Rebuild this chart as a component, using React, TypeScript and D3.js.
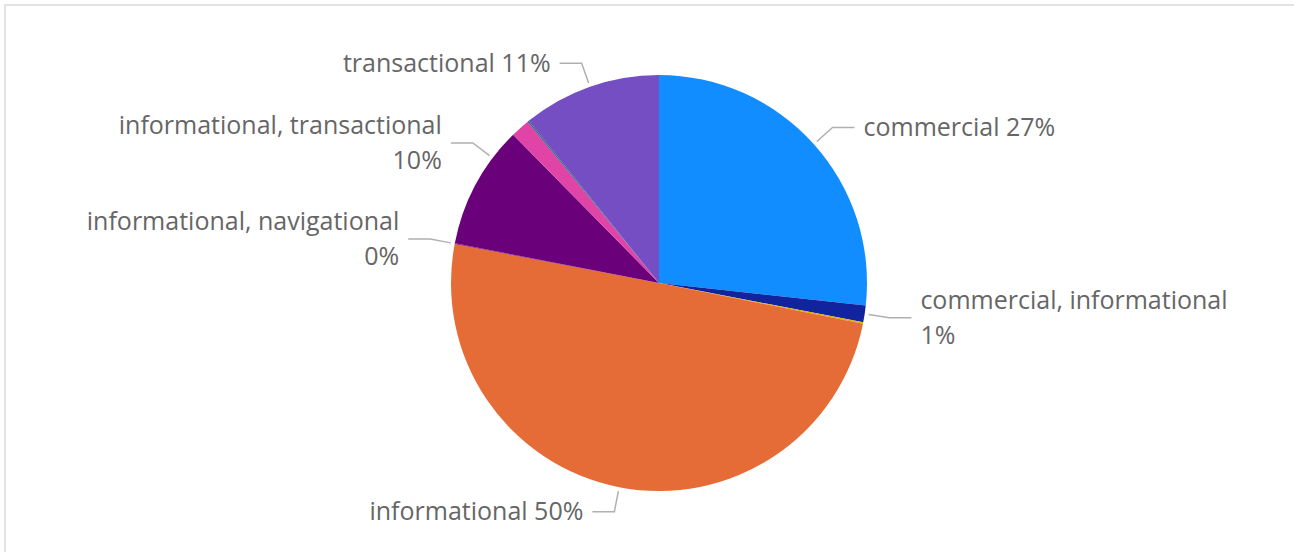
import React from "react";
import * as d3 from "d3";

const categories = [
  "commercial",
  "commercial, informational",
  "commercial, transactional",
  "informational",
  "informational, navigational",
  "informational, transactional",
  "navigational",
  "navigational, transactional",
  "transactional",
];
const values = [26.8, 1.3, 0.1, 50.0, 0.05, 9.6, 1.5, 0.1, 10.8];
const colors = [
  "#118DFF",
  "#12239E",
  "#D9B300",
  "#E66C37",
  "#6B007B",
  "#6B007B",
  "#E044A7",
  "#197278",
  "#744EC2",
];
const labeledCategories = [
  "commercial",
  "commercial, informational",
  "informational",
  "informational, navigational",
  "informational, transactional",
  "transactional",
];

const W = 1294;
const H = 552;
const CX = 659;
const CY = 283;
const R = 208;
const R_ELBOW = 233;
const LINE_H = 35;
const GAP = 26;
const FONT = "'Segoe UI', 'Open Sans', sans-serif";
const FONT_SIZE = 25;

type Lbl = {
  name: string;
  lines: string[];
  side: number;
  y: number;
  h: number;
};

export default function App() {
  const total = d3.sum(values);
  const data = categories.map((c, i) => ({ name: c, value: values[i], color: colors[i] }));
  const pie = d3.pie<any>().sort(null).value((d) => d.value);
  const arcs = pie(data);
  const arcGen = d3.arc<any>().innerRadius(0).outerRadius(R);

  const labels: Lbl[] = arcs
    .filter((a) => labeledCategories.includes(a.data.name))
    .map((a) => {
      const mid = (a.startAngle + a.endAngle) / 2;
      const side = Math.sin(mid) >= 0 ? 1 : -1;
      const pct = Math.round((a.data.value / total) * 100) + "%";
      const lines = a.data.name.includes(",") ? [a.data.name, pct] : [a.data.name + " " + pct];
      return {
        name: a.data.name,
        lines,
        side,
        y: CY - R_ELBOW * Math.cos(mid),
        h: lines.length * LINE_H,
      };
    });

  // collision avoidance: push labels upward from the bottom on each side
  [-1, 1].forEach((s) => {
    const group = labels.filter((l) => l.side === s).sort((a, b) => a.y - b.y);
    for (let i = group.length - 2; i >= 0; i--) {
      const need = (group[i].h + group[i + 1].h) / 2 + GAP;
      if (group[i + 1].y - group[i].y < need) group[i].y = group[i + 1].y - need;
    }
  });

  return (
    <svg
      width={W}
      height={H}
      style={{ position: "absolute", left: 0, top: 0, background: "#fff" }}
    >
      <rect x={5} y={5} width={W + 10} height={H + 10} fill="none" stroke="#e3e3e3" strokeWidth={2} />
      <g>
        {arcs.map((a, i) => (
          <path key={i} d={arcGen(a) as string} transform={`translate(${CX},${CY})`} fill={a.data.color} />
        ))}
      </g>
      <g>
        {labels.map((l, i) => {
          const dy = l.y - CY;
          const ex = CX + l.side * Math.sqrt(Math.max(0, R_ELBOW * R_ELBOW - dy * dy));
          const ux = (ex - CX) / R_ELBOW;
          const uy = dy / R_ELBOW;
          const sx = CX + ux * (R + 4);
          const sy = CY + uy * (R + 4);
          const hx = ex + l.side * 22;
          const tx = hx + l.side * 9;
          const y0 = l.y - ((l.lines.length - 1) * LINE_H) / 2;
          return (
            <g key={i}>
              <polyline
                points={`${sx},${sy} ${ex},${l.y} ${hx},${l.y}`}
                fill="none"
                stroke="#b0b0b0"
                strokeWidth={1.5}
              />
              {l.lines.map((t, j) => (
                <text
                  key={j}
                  x={tx}
                  y={y0 + j * LINE_H}
                  dy="0.35em"
                  textAnchor={l.side > 0 ? "start" : "end"}
                  fontFamily={FONT}
                  fontSize={FONT_SIZE}
                  fill="#666666"
                >
                  {t}
                </text>
              ))}
            </g>
          );
        })}
      </g>
    </svg>
  );
}
